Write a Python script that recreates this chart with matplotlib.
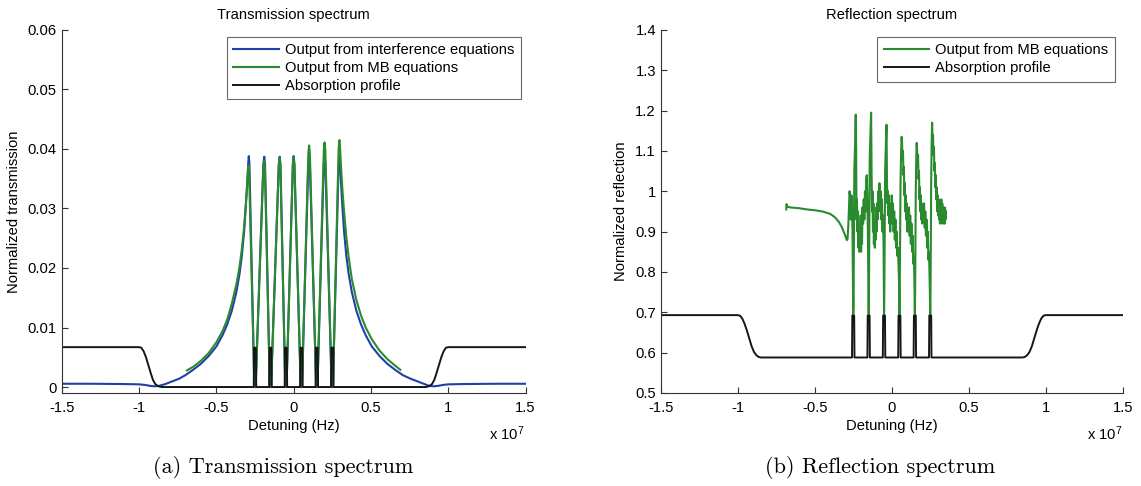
import matplotlib
matplotlib.use("Agg")
import matplotlib.pyplot as plt
from matplotlib.ticker import FuncFormatter

plt.rcParams['font.family'] = ['Liberation Sans', 'DejaVu Sans']
plt.rcParams['axes.unicode_minus'] = False
plt.rcParams['mathtext.fontset'] = 'custom'
plt.rcParams['mathtext.rm'] = 'Liberation Sans'
plt.rcParams['mathtext.it'] = 'Liberation Sans:italic'

# ---------------- detuning in units of 1e7 Hz ----------------
x_ticks = [-1.5, -1.0, -0.5, 0.0, 0.5, 1.0, 1.5]
trans_ticks = [0.0, 0.01, 0.02, 0.03, 0.04, 0.05, 0.06]
refl_ticks = [0.5, 0.6, 0.7, 0.8, 0.9, 1.0, 1.1, 1.2, 1.3, 1.4]

# Absorption profile (shared detuning grid, with six spectral holes)
abs_x = [-1.5, -1.0, -0.985, -0.97, -0.955, -0.94, -0.925, -0.91, -0.895, -0.88, -0.865, -0.85,
         -0.258, -0.256, -0.244, -0.242,
         -0.158, -0.156, -0.144, -0.142,
         -0.058, -0.056, -0.044, -0.042,
         0.042, 0.044, 0.056, 0.058,
         0.142, 0.144, 0.156, 0.158,
         0.242, 0.244, 0.256, 0.258,
         0.85, 0.865, 0.88, 0.895, 0.91, 0.925, 0.94, 0.955, 0.97, 0.985, 1.0, 1.5]
abs_trans = [0.0067, 0.0067, 0.0066, 0.0060, 0.0050, 0.0037, 0.0024, 0.0012, 0.0005, 0.0002, 0.00005, 0.0,
             0.0, 0.0066, 0.0066, 0.0,
             0.0, 0.0066, 0.0066, 0.0,
             0.0, 0.0066, 0.0066, 0.0,
             0.0, 0.0066, 0.0066, 0.0,
             0.0, 0.0066, 0.0066, 0.0,
             0.0, 0.0066, 0.0066, 0.0,
             0.0, 0.00005, 0.0002, 0.0005, 0.0012, 0.0024, 0.0037, 0.0050, 0.0060, 0.0066, 0.0067, 0.0067]
abs_refl = [0.693, 0.693, 0.6915, 0.684, 0.671, 0.654, 0.635, 0.616, 0.602, 0.594, 0.5895, 0.588,
            0.588, 0.692, 0.692, 0.588,
            0.588, 0.692, 0.692, 0.588,
            0.588, 0.692, 0.692, 0.588,
            0.588, 0.692, 0.692, 0.588,
            0.588, 0.692, 0.692, 0.588,
            0.588, 0.692, 0.692, 0.588,
            0.588, 0.5895, 0.594, 0.602, 0.616, 0.635, 0.654, 0.671, 0.684, 0.6915, 0.693, 0.693]

# Transmission from the interference equations
interf_x = [-1.5, -1.3, -1.1, -1.0, -0.96, -0.93, -0.9, -0.87, -0.83, -0.79, -0.74, -0.70, -0.65, -0.60,
            -0.55, -0.50, -0.46, -0.43, -0.40, -0.37, -0.35, -0.335, -0.32, -0.31, -0.30, -0.294, -0.290, -0.286,
            -0.254, -0.246, -0.196, -0.190, -0.185, -0.154, -0.146, -0.096, -0.090, -0.085,
            -0.054, -0.046, -0.005, 0.0, 0.005, 0.046, 0.054, 0.095, 0.100, 0.105,
            0.146, 0.154, 0.195, 0.200, 0.205, 0.246, 0.254, 0.291, 0.296, 0.301,
            0.306, 0.316, 0.326, 0.341, 0.356, 0.376, 0.406, 0.436, 0.466, 0.506, 0.556, 0.606,
            0.656, 0.706, 0.756, 0.806, 0.846, 0.876, 0.906, 0.936, 0.966, 1.0, 1.1, 1.3, 1.5]
interf_T = [0.00055, 0.00055, 0.0005, 0.00045, 0.00035, 0.0002, 0.00012, 0.0002, 0.0005, 0.0009, 0.0014,
            0.0020, 0.0029, 0.0039, 0.0052, 0.0068, 0.0087, 0.0105, 0.0128, 0.0160, 0.0190, 0.0220, 0.0262,
            0.0300, 0.0345, 0.0375, 0.0388, 0.0375,
            0.0, 0.0, 0.0374, 0.0387, 0.0374, 0.0, 0.0, 0.0374, 0.0387, 0.0374,
            0.0, 0.0, 0.0375, 0.0388, 0.0375, 0.0, 0.0, 0.0375, 0.0388, 0.0375,
            0.0, 0.0, 0.0375, 0.0388, 0.0375, 0.0, 0.0, 0.0375, 0.0388, 0.0375,
            0.0345, 0.0300, 0.0262, 0.0220, 0.0190, 0.0160, 0.0128, 0.0105, 0.0087, 0.0068, 0.0052, 0.0039,
            0.0029, 0.0020, 0.0014, 0.0009, 0.0005, 0.0002, 0.00012, 0.0002, 0.00035, 0.00045, 0.0005,
            0.00055, 0.00055]

# Transmission from the Maxwell-Bloch equations
mb_trans_x = [-0.69, -0.65, -0.60, -0.55, -0.50, -0.46, -0.43, -0.40, -0.37, -0.35, -0.335, -0.32, -0.31,
              -0.30, -0.296, -0.292, -0.288, -0.254, -0.246, -0.196, -0.191, -0.186, -0.154, -0.146,
              -0.096, -0.091, -0.086, -0.054, -0.046, -0.005, 0.0, 0.005, 0.046, 0.054, 0.095, 0.100,
              0.105, 0.146, 0.154, 0.195, 0.200, 0.205, 0.246, 0.254, 0.291, 0.296, 0.301, 0.306,
              0.316, 0.326, 0.341, 0.356, 0.376, 0.406, 0.436, 0.466, 0.506, 0.556, 0.606, 0.656, 0.69]
mb_trans_T = [0.0028, 0.0034, 0.0044, 0.0057, 0.0075, 0.0094, 0.0113, 0.0140, 0.0173, 0.0202, 0.0232,
              0.0270, 0.0305, 0.0340, 0.0360, 0.0372, 0.0360, 0.0, 0.0, 0.0368, 0.0380, 0.0368, 0.0, 0.0,
              0.0372, 0.0385, 0.0372, 0.0, 0.0, 0.0373, 0.0386, 0.0373, 0.0, 0.0, 0.0392, 0.0406,
              0.0392, 0.0, 0.0, 0.0397, 0.0411, 0.0397, 0.0, 0.0, 0.0400, 0.0415, 0.0398, 0.0372,
              0.0330, 0.0295, 0.0252, 0.0218, 0.0182, 0.0146, 0.0120, 0.0100, 0.0080, 0.0061, 0.0047,
              0.0036, 0.0029]

# Reflection from the Maxwell-Bloch equations
mb_refl_x_lead = [-0.685, -0.683, -0.680, -0.66, -0.60, -0.55, -0.50, -0.45, -0.40, -0.37, -0.345, -0.325,
                  -0.31, -0.30, -0.292, -0.287, -0.282, -0.278, -0.274, -0.270, -0.266, -0.262, -0.258,
                  -0.255, -0.252, -0.250]
mb_refl_y_lead = [0.955, 0.968, 0.962, 0.960, 0.958, 0.955, 0.953, 0.950, 0.944, 0.936, 0.925, 0.912,
                  0.898, 0.888, 0.879, 0.882, 0.915, 0.960, 1.000, 0.985, 0.930, 0.990, 0.960,
                  0.900, 0.780, 0.695]
mb_refl_x_1 = [-0.248, -0.243, -0.238, -0.234, -0.231, -0.229, -0.226, -0.223, -0.220, -0.217, -0.214,
               -0.211, -0.208, -0.205, -0.202, -0.199, -0.196, -0.193, -0.190, -0.186, -0.182, -0.178,
               -0.174, -0.170, -0.166, -0.162, -0.158, -0.155, -0.152, -0.150]
mb_refl_y_1 = [0.72, 1.05, 1.12, 1.19, 1.10, 0.93, 0.98, 0.90, 0.95, 0.86, 0.92, 0.85, 0.90, 0.86, 0.94,
               0.85, 0.91, 0.87, 0.96, 0.92, 0.98, 0.93, 1.00, 0.95, 1.03, 1.04, 0.97, 0.90, 0.78, 0.695]
mb_refl_x_2 = [-0.148, -0.143, -0.138, -0.134, -0.131, -0.128, -0.125, -0.122, -0.119, -0.116, -0.113,
               -0.110, -0.107, -0.104, -0.101, -0.098, -0.095, -0.092, -0.088, -0.084, -0.080, -0.076,
               -0.072, -0.068, -0.064, -0.060, -0.056, -0.053, -0.051, -0.050]
mb_refl_y_2 = [0.75, 1.08, 1.15, 1.195, 1.05, 0.95, 1.00, 0.90, 0.97, 0.87, 0.93, 0.86, 0.92, 0.88, 0.96,
               0.90, 0.97, 0.93, 1.00, 0.95, 1.02, 0.96, 1.00, 0.93, 0.98, 0.90, 0.94, 0.86, 0.76, 0.695]
mb_refl_x_3 = [-0.048, -0.043, -0.038, -0.034, -0.031, -0.028, -0.025, -0.022, -0.019, -0.016, -0.013,
               -0.010, -0.007, -0.004, 0.000, 0.004, 0.008, 0.012, 0.016, 0.020, 0.024, 0.028, 0.032,
               0.036, 0.040, 0.044, 0.047, 0.050]
mb_refl_y_3 = [0.76, 1.05, 1.12, 1.165, 1.03, 0.97, 1.00, 0.94, 0.99, 0.92, 0.97, 0.90, 0.96, 0.93, 0.99,
               0.92, 0.97, 0.90, 0.95, 0.88, 0.93, 0.86, 0.90, 0.84, 0.86, 0.81, 0.78, 0.695]
mb_refl_x_4 = [0.052, 0.057, 0.061, 0.064, 0.067, 0.070, 0.073, 0.076, 0.079, 0.082, 0.085, 0.088, 0.091,
               0.094, 0.097, 0.100, 0.104, 0.108, 0.112, 0.116, 0.120, 0.124, 0.128, 0.132, 0.136, 0.140,
               0.144, 0.147, 0.150]
mb_refl_y_4 = [0.76, 1.02, 1.10, 1.135, 1.12, 1.08, 1.10, 1.04, 1.06, 0.99, 1.02, 0.95, 0.99, 0.93, 0.97,
               0.90, 0.95, 0.92, 0.96, 0.89, 0.94, 0.87, 0.92, 0.85, 0.89, 0.82, 0.84, 0.78, 0.695]
mb_refl_x_5 = [0.152, 0.156, 0.159, 0.162, 0.165, 0.168, 0.171, 0.174, 0.177, 0.180, 0.183, 0.186, 0.189,
               0.192, 0.195, 0.198, 0.202, 0.206, 0.210, 0.214, 0.218, 0.222, 0.226, 0.230, 0.234, 0.238,
               0.242, 0.246, 0.250]
mb_refl_y_5 = [0.76, 1.00, 1.08, 1.12, 1.10, 1.06, 1.09, 1.03, 1.05, 0.98, 1.01, 0.95, 0.99, 0.93, 0.97,
               0.92, 0.96, 0.93, 0.97, 0.91, 0.95, 0.89, 0.93, 0.86, 0.90, 0.83, 0.85, 0.78, 0.695]
mb_refl_x_6 = [0.252, 0.256, 0.259, 0.262, 0.265, 0.268, 0.271, 0.274, 0.277, 0.280, 0.283, 0.286, 0.289,
               0.292, 0.295, 0.298, 0.301, 0.304, 0.307, 0.310, 0.313, 0.316, 0.319, 0.322, 0.325, 0.328,
               0.331, 0.334, 0.337, 0.340, 0.343, 0.346, 0.349, 0.352]
mb_refl_y_6 = [0.76, 1.02, 1.12, 1.17, 1.13, 1.14, 1.09, 1.11, 1.05, 1.07, 1.01, 1.04, 0.98, 1.01, 0.95,
               0.99, 0.94, 0.98, 0.93, 0.97, 0.92, 0.96, 0.94, 0.98, 0.92, 0.97, 0.93, 0.96, 0.92, 0.95,
               0.92, 0.96, 0.93, 0.95]

mb_refl_x = (mb_refl_x_lead + mb_refl_x_1 + mb_refl_x_2 + mb_refl_x_3
             + mb_refl_x_4 + mb_refl_x_5 + mb_refl_x_6)
mb_refl_y = (mb_refl_y_lead + mb_refl_y_1 + mb_refl_y_2 + mb_refl_y_3
             + mb_refl_y_4 + mb_refl_y_5 + mb_refl_y_6)

# ---------------- styling ----------------
BLUE = '#2040a8'
GREEN = '#2a8a2e'
BLACK = '#161616'
AXCOL = '#333333'
FS = 10.6

fmt = FuncFormatter(lambda v, p: f'{round(v, 6):g}')


def style_axes(ax, yticks, ylim):
    ax.set_xlim(-1.5, 1.5)
    ax.set_ylim(*ylim)
    ax.set_xticks(x_ticks)
    ax.set_yticks(yticks)
    ax.xaxis.set_major_formatter(fmt)
    ax.yaxis.set_major_formatter(fmt)
    for side in ('top', 'right'):
        ax.spines[side].set_visible(False)
    for side in ('left', 'bottom'):
        ax.spines[side].set_color(AXCOL)
        ax.spines[side].set_linewidth(0.8)
    ax.tick_params(direction='in', length=4, width=0.8, color=AXCOL, labelsize=FS)
    ax.tick_params(axis='x', pad=6)
    ax.tick_params(axis='y', pad=3.5)
    ax.set_xlabel('Detuning (Hz)', fontsize=FS, labelpad=3)
    ax.text(0.998, -0.112, r'x 10$^{7}$', transform=ax.transAxes, ha='right', va='center', fontsize=FS)


fig = plt.figure(figsize=(11.41, 4.86), dpi=100)
ax1 = fig.add_axes([0.0541, 0.1914, 0.4065, 0.747])
ax2 = fig.add_axes([0.5791, 0.1914, 0.4049, 0.747])

# Transmission panel
ax1.plot(interf_x, interf_T, color=BLUE, lw=1.5, label='Output from interference equations')
ax1.plot(mb_trans_x, mb_trans_T, color=GREEN, lw=1.5, label='Output from MB equations')
ax1.plot(abs_x, abs_trans, color=BLACK, lw=1.4, label='Absorption profile')
style_axes(ax1, trans_ticks, (-0.001, 0.06))
ax1.set_ylabel('Normalized transmission', fontsize=FS, labelpad=5)
ax1.set_title('Transmission spectrum', fontsize=FS, pad=8)

# Reflection panel
ax2.plot(mb_refl_x, mb_refl_y, color=GREEN, lw=1.5, label='Output from MB equations')
ax2.plot(abs_x, abs_refl, color=BLACK, lw=1.4, label='Absorption profile')
style_axes(ax2, refl_ticks, (0.5, 1.4))
ax2.set_ylabel('Normalized reflection', fontsize=FS, labelpad=5)
ax2.set_title('Reflection spectrum', fontsize=FS, pad=8)

for ax, anchor in ((ax1, (0.990, 0.981)), (ax2, (0.983, 0.981))):
    leg = ax.legend(loc='upper right', bbox_to_anchor=anchor, borderaxespad=0, fontsize=FS,
                    frameon=True, fancybox=False, handlelength=3.1, handletextpad=0.4,
                    labelspacing=0.25, borderpad=0.45)
    leg.get_frame().set_edgecolor('#444444')
    leg.get_frame().set_linewidth(0.8)

# Sub-figure captions
fig.text(283 / 1141, 1 - 467 / 486, '(a) Transmission spectrum', family='cmr10', fontsize=16,
         ha='center', va='center')
fig.text(880 / 1141, 1 - 467 / 486, '(b) Reflection spectrum', family='cmr10', fontsize=16,
         ha='center', va='center')

fig.savefig('out.png', dpi=100)
